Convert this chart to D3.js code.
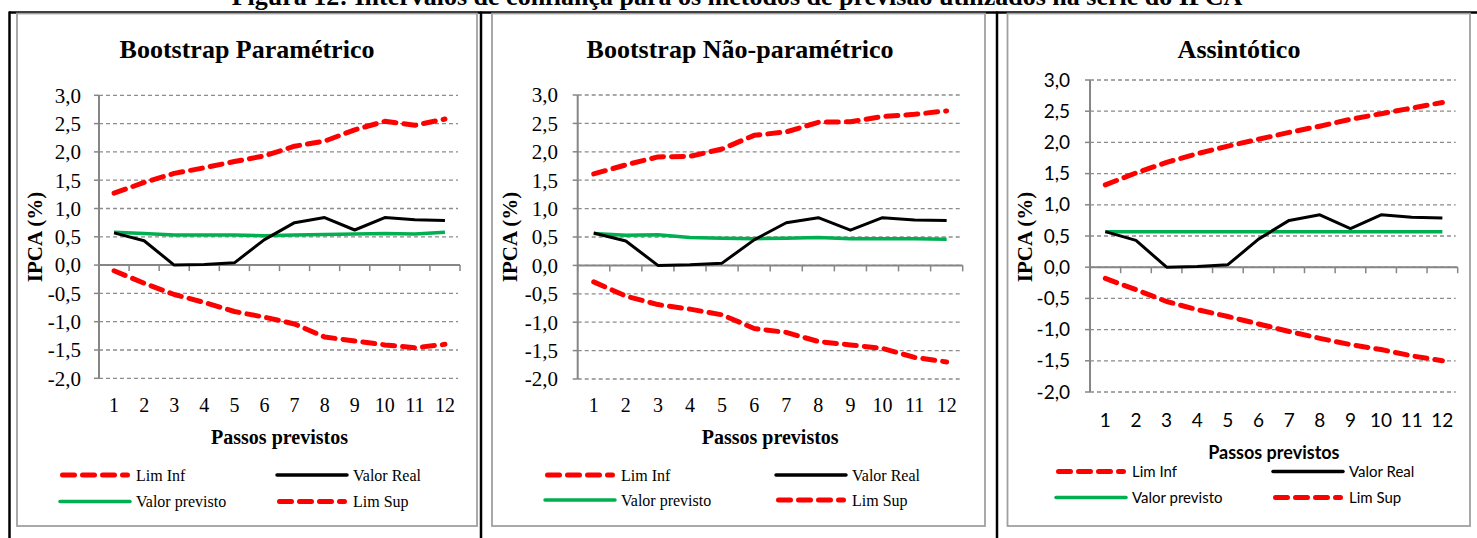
<!DOCTYPE html>
<html>
<head>
<meta charset="utf-8">
<script src="https://cdn.jsdelivr.net/npm/d3@7"></script>
<style>
  html, body { margin: 0; padding: 0; background: #fff; overflow: hidden; }
  svg { display: block; }
</style>
</head>
<body>
<svg id="fig" width="1477" height="538"></svg>
<script>
// Forecast horizon (steps ahead)
const steps = [1, 2, 3, 4, 5, 6, 7, 8, 9, 10, 11, 12];

// Observed IPCA (%), shared by the three panels
const valorReal = [0.57, 0.43, 0.00, 0.01, 0.04, 0.45, 0.75, 0.84, 0.62, 0.84, 0.80, 0.79];

// Parametric bootstrap
const limInfPar  = [-0.10, -0.32, -0.52, -0.66, -0.82, -0.92, -1.04, -1.27, -1.34, -1.41, -1.46, -1.40];
const limSupPar  = [1.27, 1.46, 1.62, 1.72, 1.83, 1.93, 2.10, 2.19, 2.39, 2.54, 2.47, 2.58];
const prevPar    = [0.58, 0.56, 0.53, 0.53, 0.53, 0.52, 0.53, 0.54, 0.55, 0.56, 0.55, 0.58];

// Non-parametric bootstrap
const limInfNP   = [-0.29, -0.54, -0.69, -0.77, -0.87, -1.11, -1.18, -1.34, -1.40, -1.46, -1.62, -1.70];
const limSupNP   = [1.61, 1.77, 1.91, 1.92, 2.05, 2.29, 2.35, 2.52, 2.53, 2.62, 2.66, 2.72];
const prevNP     = [0.56, 0.53, 0.54, 0.49, 0.48, 0.47, 0.48, 0.49, 0.47, 0.47, 0.47, 0.46];

// Asymptotic interval
const limInfAs   = [-0.18, -0.36, -0.55, -0.68, -0.79, -0.91, -1.03, -1.14, -1.24, -1.32, -1.42, -1.50];
const limSupAs   = [1.32, 1.51, 1.68, 1.82, 1.94, 2.05, 2.16, 2.26, 2.37, 2.46, 2.55, 2.64];
const prevAs     = [0.57, 0.57, 0.57, 0.57, 0.57, 0.57, 0.57, 0.57, 0.57, 0.57, 0.57, 0.57];

// Value axis ticks
const yTicks = [3.0, 2.5, 2.0, 1.5, 1.0, 0.5, 0.0, -0.5, -1.0, -1.5, -2.0];

const titles = ["Bootstrap Paramétrico", "Bootstrap Não-paramétrico", "Assintótico"];
const figTitle = "Figura 12: Intervalos de confiança para os métodos de previsão utilizados na série do IPCA";
const yTitle = "IPCA (%)";
const xTitle = "Passos previstos";
const seriesNames = ["Lim Inf", "Valor Real", "Valor previsto", "Lim Sup"];

const SERIF = "'Liberation Serif', 'Times New Roman', serif";
const SANS = "Lato, 'Open Sans', sans-serif";
const RED = "#ff0000", GREEN = "#00b050", BLACK = "#000000", AXIS = "#868686";

const svg = d3.select("#fig");
const fmt = v => d3.format(".1f")(v).replace(".", ",").replace("−", "-");

// Page frame lines
svg.append("line").attr("x1", 9).attr("x2", 1477).attr("y1", 12.5).attr("y2", 12.5)
  .attr("stroke", "#000").attr("stroke-width", 2.5);
[9.5, 481, 997].forEach(x => {
  svg.append("line").attr("x1", x).attr("x2", x).attr("y1", 11.5).attr("y2", 538)
    .attr("stroke", "#000").attr("stroke-width", 2.5);
});

// Figure caption (sits above the frame)
svg.append("text").attr("x", 737).attr("y", 5).attr("text-anchor", "middle")
  .attr("font-family", SERIF).attr("font-weight", "bold").attr("font-size", 26)
  .text(figTitle);

const panels = [
  { box: [17, 13.5, 477, 526], x0: 99, x1: 460, yTop: 95.3, yBot: 378.3,
    yLabelX: 81, xLabelY: 405, titleX: 247, titleY: 58, yTitleX: 35, passosY: 437,
    font: SERIF, tickSize: 21, xTickSize: 20, passosSize: 20, legSize: 16,
    leg: { c1: 60, c2: 277, r1: 475, r2: 501.5, len: 70 },
    inf: limInfPar, sup: limSupPar, prev: prevPar },
  { box: [492, 13.5, 985, 526], x0: 577.7, x1: 962.7, yTop: 95, yBot: 379,
    yLabelX: 558, xLabelY: 405, titleX: 740, titleY: 58, yTitleX: 510, passosY: 437,
    font: SERIF, tickSize: 21, xTickSize: 20, passosSize: 20, legSize: 16,
    leg: { c1: 545, c2: 776, r1: 475, r2: 500, len: 70 },
    inf: limInfNP, sup: limSupNP, prev: prevNP },
  { box: [1007.5, 13.5, 1470, 526], x0: 1090, x1: 1457.7, yTop: 80, yBot: 392,
    yLabelX: 1070, xLabelY: 420, titleX: 1239, titleY: 58, yTitleX: 1025, passosY: 453,
    font: SANS, tickSize: 19, xTickSize: 19, passosSize: 18, legSize: 15,
    leg: { c1: 1056, c2: 1273, r1: 471.5, r2: 497.5, len: 70 },
    inf: limInfAs, sup: limSupAs, prev: prevAs }
];

panels.forEach((p, i) => {
  const g = svg.append("g");

  // Chart area border
  g.append("rect").attr("x", p.box[0]).attr("y", p.box[1])
    .attr("width", p.box[2] - p.box[0]).attr("height", p.box[3] - p.box[1])
    .attr("fill", "#fff").attr("stroke", "#a0a0a0").attr("stroke-width", 1.8);

  const x = d3.scaleBand().domain(steps).range([p.x0, p.x1]);
  const y = d3.scaleLinear().domain([-2, 3]).range([p.yBot, p.yTop]);

  // Horizontal dashed gridlines with tick marks and labels
  yTicks.forEach(t => {
    g.append("line").attr("x1", p.x0).attr("x2", p.x1 - 2)
      .attr("y1", y(t)).attr("y2", y(t))
      .attr("stroke", "#8c8c8c").attr("stroke-width", 1.3).attr("stroke-dasharray", "4 3");
    g.append("line").attr("x1", p.x0 - 5).attr("x2", p.x0)
      .attr("y1", y(t)).attr("y2", y(t))
      .attr("stroke", AXIS).attr("stroke-width", 1.5);
    g.append("text").attr("x", p.yLabelX).attr("y", y(t)).attr("dy", "0.35em")
      .attr("text-anchor", "end").attr("font-family", p.font).attr("font-size", p.tickSize)
      .text(fmt(t));
  });

  // Value axis line
  g.append("line").attr("x1", p.x0).attr("x2", p.x0).attr("y1", y(3)).attr("y2", y(-2))
    .attr("stroke", AXIS).attr("stroke-width", 2);

  // Category axis crossing at zero, ticks at band edges
  g.append("line").attr("x1", p.x0).attr("x2", p.x1).attr("y1", y(0)).attr("y2", y(0))
    .attr("stroke", AXIS).attr("stroke-width", 2);
  const edges = steps.map(s => x(s)).concat([p.x1]);
  edges.forEach(e => {
    g.append("line").attr("x1", e).attr("x2", e).attr("y1", y(0)).attr("y2", y(0) + 6)
      .attr("stroke", AXIS).attr("stroke-width", 1.5);
  });
  steps.forEach(s => {
    g.append("text").attr("x", x(s) + x.bandwidth() / 2).attr("y", p.xLabelY).attr("dy", "0.35em")
      .attr("text-anchor", "middle").attr("font-family", p.font).attr("font-size", p.xTickSize)
      .text(s);
  });

  // Titles
  g.append("text").attr("x", p.titleX).attr("y", p.titleY).attr("text-anchor", "middle")
    .attr("font-family", SERIF).attr("font-weight", "bold").attr("font-size", 26)
    .text(titles[i]);
  g.append("text").attr("transform", `translate(${p.yTitleX},237) rotate(-90)`)
    .attr("dy", "0.35em").attr("text-anchor", "middle")
    .attr("font-family", SERIF).attr("font-weight", "bold").attr("font-size", 21)
    .text(yTitle);
  g.append("text").attr("x", (p.x0 + p.x1) / 2).attr("y", p.passosY).attr("dy", "0.35em")
    .attr("text-anchor", "middle").attr("font-family", p.font).attr("font-weight", "bold")
    .attr("font-size", p.passosSize).text(xTitle);

  // Series
  const line = d3.line().x((d, k) => x(steps[k]) + x.bandwidth() / 2).y(d => y(d));
  const series = [
    { vals: p.prev, color: GREEN, w: 3.5, dash: null },
    { vals: valorReal, color: BLACK, w: 3, dash: null },
    { vals: p.inf, color: RED, w: 5, dash: "12 8" },
    { vals: p.sup, color: RED, w: 5, dash: "12 8" }
  ];
  series.forEach(s => {
    g.append("path").attr("d", line(s.vals)).attr("fill", "none")
      .attr("stroke", s.color).attr("stroke-width", s.w)
      .attr("stroke-linecap", s.dash ? "round" : "butt").attr("stroke-linejoin", "round")
      .attr("stroke-dasharray", s.dash);
  });

  // Legend
  const L = p.leg;
  const legItems = [
    { name: seriesNames[0], cx: L.c1, cy: L.r1, color: RED, w: 5, dash: "12 8" },
    { name: seriesNames[1], cx: L.c2, cy: L.r1, color: BLACK, w: 3.5, dash: null },
    { name: seriesNames[2], cx: L.c1, cy: L.r2, color: GREEN, w: 3.5, dash: null },
    { name: seriesNames[3], cx: L.c2, cy: L.r2, color: RED, w: 5, dash: "12 8" }
  ];
  legItems.forEach(it => {
    g.append("line").attr("x1", it.cx + (it.dash ? 2.5 : 0)).attr("x2", it.cx + L.len - (it.dash ? 2.5 : 0))
      .attr("y1", it.cy).attr("y2", it.cy)
      .attr("stroke", it.color).attr("stroke-width", it.w)
      .attr("stroke-linecap", "round").attr("stroke-dasharray", it.dash);
    g.append("text").attr("x", it.cx + L.len + 6).attr("y", it.cy).attr("dy", "0.35em")
      .attr("font-family", p.font).attr("font-size", p.legSize).text(it.name);
  });
});
</script>
</body>
</html>
